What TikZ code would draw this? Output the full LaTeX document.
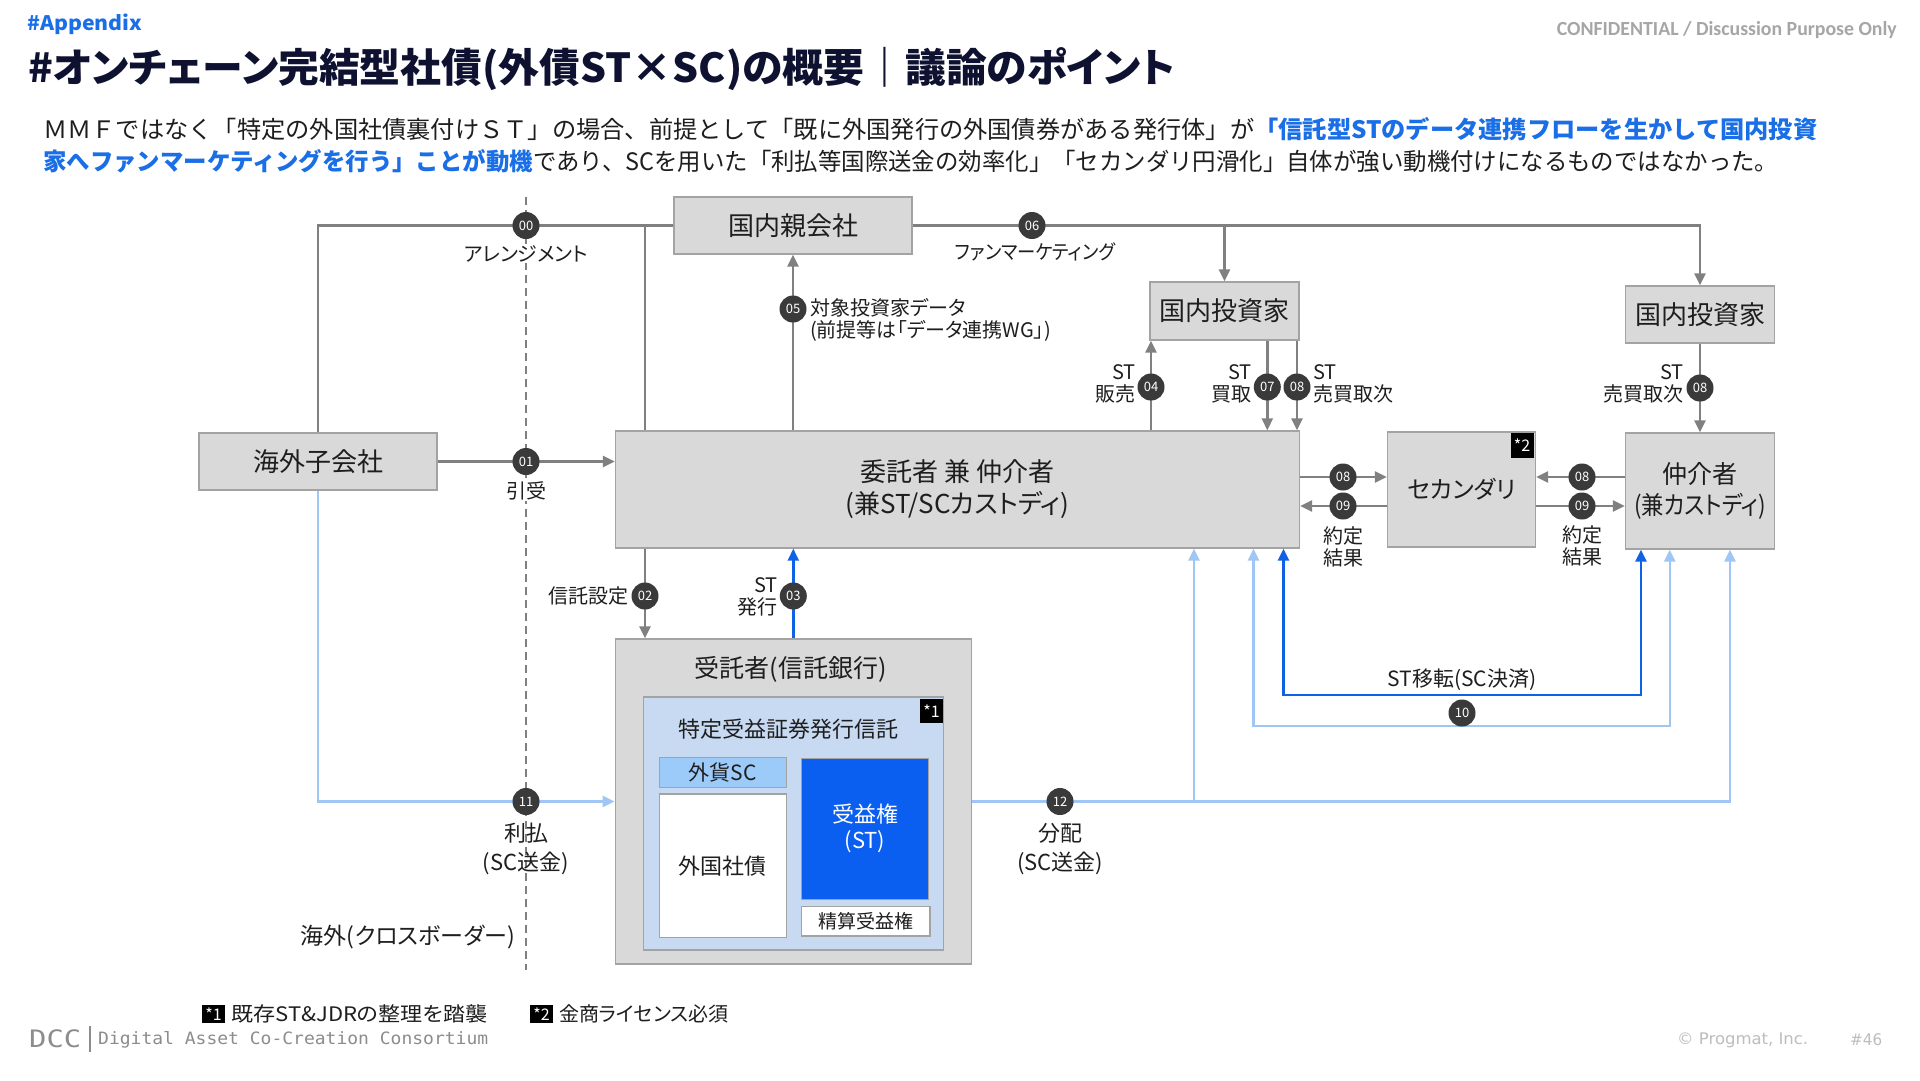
\documentclass[tikz,border=0pt]{standalone}
\usepackage{fontspec}
\usepackage{graphicx}
\usetikzlibrary{arrows.meta,calc}
\setmainfont{Noto Sans CJK JP}[RawFeature=+palt]
\newfontfamily\jpfix{Noto Sans CJK JP}
\newfontfamily\carl{Carlito}
\newfontfamily\monof{DejaVu Sans Mono}
\newfontfamily\dejasans{DejaVu Sans}
\newcommand\fitw[2]{\resizebox{#1}{\height}{#2}}
\definecolor{boxfill}{HTML}{D9D9D9}
\definecolor{boxline}{HTML}{A3A3A3}
\definecolor{lgray}{HTML}{808080}
\definecolor{badgec}{HTML}{3A3A3A}
\definecolor{lblue}{HTML}{9FC6F5}
\definecolor{dblue}{HTML}{0F62E6}
\definecolor{trustfill}{HTML}{C8DAF2}
\definecolor{scfill}{HTML}{9DCBF9}
\definecolor{stfill}{HTML}{0A5EF0}
\definecolor{navy}{HTML}{0E1230}
\definecolor{bluet}{HTML}{1A6EE6}
\definecolor{txt}{HTML}{1E1E1E}
\definecolor{confg}{HTML}{A6A6A6}
\definecolor{footg}{HTML}{8C8C8C}
\definecolor{copyg}{HTML}{BDBDBD}
\begin{document}
\begin{tikzpicture}[x=1bp,y=-1bp,
  boxs/.style={draw=boxline, fill=boxfill, line width=1.3bp, inner sep=0pt, align=center, text=txt,
    font=\fontsize{26bp}{32bp}\selectfont},
  badge/.style={circle, fill=badgec, text=white, minimum size=27bp, inner sep=0pt,
    font=\fontsize{13bp}{13bp}\selectfont},
  lbl/.style={inner sep=1bp, align=center, text=txt, font=\fontsize{20bp}{22bp}\selectfont},
  blk/.style={fill=black, text=white, inner sep=0pt, font=\fontsize{16bp}{16bp}\selectfont},
  conn/.style={draw=lgray, line width=2.4bp},
  arr/.style={conn, -{Triangle[length=12bp,width=11bp]}},
  arrl/.style={draw=lblue, line width=2.4bp, -{Triangle[length=12bp,width=11bp]}},
  arrb/.style={draw=dblue, line width=2.4bp, -{Triangle[length=12bp,width=11bp]}},
  biarrl/.style={draw=lblue, line width=2.4bp, {Triangle[length=12bp,width=11bp]}-{Triangle[length=12bp,width=11bp]}},
  biarrb/.style={draw=dblue, line width=2.4bp, {Triangle[length=12bp,width=11bp]}-{Triangle[length=12bp,width=11bp]}}
]
\useasboundingbox (0,0) rectangle (1920,1080);
\fill[white] (0,0) rectangle (1920,1080);

% ---------- header ----------
\node[anchor=west, inner sep=0pt, text=bluet, font=\fontsize{20bp}{24bp}\selectfont\bfseries] (appx) at (27,24) {\fitw{115bp}{\#Appendix}};
\node[anchor=east, inner sep=0pt, text=confg, font=\carl\bfseries\fontsize{20bp}{24bp}\selectfont] (conf) at (1897,30) {\fitw{340bp}{CONFIDENTIAL / Discussion Purpose Only}};
\node[anchor=west, inner sep=0pt, text=navy, font=\fontsize{40bp}{48bp}\selectfont\bfseries] (title) at (28,69) {\fitw{1147bp}{\#オンチェーン完結型社債(外債ST×SC)の概要｜議論のポイント}};
\node[anchor=west, inner sep=0pt, text=txt, font=\jpfix\fontsize{24bp}{28bp}\selectfont] (sub1) at (43,129) {\fitw{1774bp}{ＭＭＦではなく「特定の外国社債裏付けＳＴ」の場合、前提として「既に外国発行の外国債券がある発行体」が\textcolor{bluet}{\bfseries「信託型STのデータ連携フローを生かして国内投資}}};
\node[anchor=west, inner sep=0pt, text=txt, font=\jpfix\fontsize{24bp}{28bp}\selectfont] (sub2) at (43,161) {\fitw{1735bp}{\textcolor{bluet}{\bfseries 家へファンマーケティングを行う」ことが動機}であり、SCを用いた「利払等国際送金の効率化」「セカンダリ円滑化」自体が強い動機付けになるものではなかった。}};

% ---------- dashed border line ----------
\coordinate (dtop) at (526,197);
\coordinate (dbot) at (526,970);
\draw[draw=lgray, line width=2bp, dash pattern=on 8bp off 5bp] (dtop) -- (dbot);

% ---------- boxes ----------
\node[boxs, minimum width=238bp, minimum height=57bp] (kaigai) at (318,461.5) {海外子会社};
\node[boxs, minimum width=238bp, minimum height=57bp] (oya) at (793,225.5) {国内親会社};
\node[boxs, minimum width=684bp, minimum height=117bp] (itaku) at (957.5,489.5) {委託者 兼 仲介者\\(兼ST/SCカストディ)};
\node[boxs, minimum width=149bp, minimum height=58bp] (toshi1) at (1224.5,311) {国内投資家};
\node[boxs, minimum width=149bp, minimum height=57bp] (toshi2) at (1700,314.5) {国内投資家};
\node[boxs, minimum width=148bp, minimum height=115bp, font=\fontsize{24bp}{30bp}\selectfont] (second) at (1461.5,489.5) {セカンダリ};
\node[boxs, minimum width=149bp, minimum height=116bp, font=\fontsize{25bp}{31bp}\selectfont] (chukai) at (1700,491) {仲介者\\\fitw{132bp}{(兼カストディ)}};
\node[blk, minimum width=23bp, minimum height=25bp] (ast2) at (1522,445.5) {*2};

% trustee block
\node[boxs, minimum width=356bp, minimum height=325bp] (jutaku) at (793.3,801.5) {};
\node[lbl, font=\fontsize{25bp}{30bp}\selectfont] (jutakut) at (790.6,669.5) {受託者(信託銀行)};
\node[draw=boxline, fill=trustfill, line width=1.3bp, minimum width=300bp, minimum height=253bp, inner sep=0pt] (trust) at (793.3,823.4) {};
\node[blk, minimum width=23bp, minimum height=24bp] (ast1) at (931.5,711) {*1};
\node[lbl, font=\fontsize{22bp}{26bp}\selectfont] (trustt) at (788,729.5) {特定受益証券発行信託};
\node[draw=boxline, fill=scfill, line width=1.3bp, minimum width=127bp, minimum height=30bp, inner sep=0pt, text=txt, font=\fontsize{21bp}{24bp}\selectfont] (gsc) at (722.9,772.7) {外貨SC};
\node[draw=boxline, fill=white, line width=1.3bp, minimum width=127bp, minimum height=143.7bp, inner sep=0pt, text=txt, font=\fontsize{22bp}{26bp}\selectfont] (gsai) at (722.9,865.8) {外国社債};
\node[draw=boxline, fill=stfill, line width=1.3bp, minimum width=127.5bp, minimum height=141bp, inner sep=0pt, align=center, text=white, font=\fontsize{22bp}{26bp}\selectfont] (juek) at (865,828.8) {受益権\\(ST)};
\node[draw=boxline, fill=white, line width=1.3bp, minimum width=128.7bp, minimum height=29.3bp, inner sep=0pt, text=txt, font=\fontsize{19bp}{22bp}\selectfont] (seisan) at (865.6,921.4) {精算受益権};

% ---------- coordinates for vertical lines ----------
\coordinate (x00v) at (645,0);
\coordinate (x04) at (1151,0);
\coordinate (x07) at (1267.3,0);
\coordinate (x08) at (1297,0);
\coordinate (y08) at (0,477);
\coordinate (y09) at (0,506);
\coordinate (x12b) at (1194,0);
\coordinate (x12r) at (1730,0);
\coordinate (d1) at (1283.5,695);
\coordinate (d2) at (1641,695);
\coordinate (l1) at (1253.5,726);
\coordinate (l2) at (1669.7,726);

% ---------- connectors ----------
% 00 arrangement
\draw[conn] (kaigai.north) |- (oya.west);
\draw[conn] (itaku.north -| x00v) -- (oya.west -| x00v);
% 06 fan marketing
\draw[arr] (oya.east) -| (toshi2.north);
\draw[arr] (oya.east -| toshi1.north) -- (toshi1.north);
% 05
\draw[arr] (itaku.north -| oya.south) -- (oya.south);
% 01
\draw[arr] (kaigai.east) -- (kaigai.east -| itaku.west);
% 04 / 07 / 08
\draw[arr] (itaku.north -| x04) -- (toshi1.south -| x04);
\draw[arr] (toshi1.south -| x07) -- (itaku.north -| x07);
\draw[arr] (toshi1.south -| x08) -- (itaku.north -| x08);
% 08 / 09 left pair
\draw[arr] (itaku.east |- y08) -- (second.west |- y08);
\draw[arr] (second.west |- y09) -- (itaku.east |- y09);
% 08 / 09 right pair
\draw[arr] (chukai.west |- y08) -- (second.east |- y08);
\draw[arr] (second.east |- y09) -- (chukai.west |- y09);
% 08 right vertical
\draw[arr] (toshi2.south) -- (chukai.north);
% 02
\draw[arr] (itaku.south -| x00v) -- (jutaku.north -| x00v);
% 03
\draw[arrb] (jutaku.north) -- (itaku.south -| jutaku.north);
% 11
\draw[arrl] (kaigai.south) |- (jutaku.west);
% 12
\draw[arrl] (jutaku.east) -| (chukai.south -| x12r);
\draw[arrl] (jutaku.east -| x12b) -- (itaku.south -| x12b);
% 10
\draw[biarrl] (itaku.south -| l1) -- (l1) -- (l2) -- (chukai.south -| l2);
\draw[biarrb] (itaku.south -| d1) -- (d1) -- (d2) -- (chukai.south -| d2);

% ---------- badges ----------
\node[badge] (b00) at (526,225.5) {00};
\node[badge] (b06) at (1032,225.5) {06};
\node[badge] (b05) at (793,309) {05};
\node[badge] (b01) at (526,461.5) {01};
\node[badge] (b04) at (1151,387) {04};
\node[badge] (b07) at (1267.3,387) {07};
\node[badge] (b08a) at (1297,387) {08};
\node[badge] (b08b) at (1343,477) {08};
\node[badge] (b09b) at (1343,506) {09};
\node[badge] (b08c) at (1582,477) {08};
\node[badge] (b09c) at (1582,506) {09};
\node[badge] (b08d) at (1700,388) {08};
\node[badge] (b02) at (645,596) {02};
\node[badge] (b03) at (793.3,596) {03};
\node[badge] (b11) at (526,801.5) {11};
\node[badge] (b12) at (1060,801.5) {12};
\node[badge] (b10) at (1462,713) {10};

% ---------- labels ----------
\node[lbl, fill=white] (l00) at (526,254) {アレンジメント};
\node[lbl] (l06) at (1035,252) {\fitw{160bp}{ファンマーケティング}};
\node[lbl, anchor=west, align=left] (l05) at (809,320) {対象投資家データ\\(前提等は「データ連携WG」)};
\node[lbl, fill=white] (l01) at (526,491) {引受};
\node[lbl, anchor=east, align=right] (l04) at (1137,384) {ST\\販売};
\node[lbl, anchor=east, align=right] (l07) at (1253,384) {ST\\買取};
\node[lbl, anchor=west, align=left] (l08a) at (1312,384) {ST\\売買取次};
\node[lbl, anchor=east, align=right] (l08d) at (1685,384) {ST\\売買取次};
\node[lbl] (l09b) at (1343,547) {約定\\結果};
\node[lbl] (l09c) at (1582,546) {約定\\結果};
\node[lbl, anchor=east] (l02) at (630,596) {信託設定};
\node[lbl, anchor=east, align=right] (l03) at (779,597) {ST\\発行};
\node[lbl, font=\fontsize{22bp}{29bp}\selectfont] (l11) at (526,849) {利払\\(SC送金)};
\node[lbl, font=\fontsize{22bp}{29bp}\selectfont] (l12) at (1060,849) {分配\\(SC送金)};
\node[lbl, font=\fontsize{21bp}{24bp}\selectfont] (l10) at (1462,680) {ST移転(SC決済)};
\node[lbl, anchor=east, font=\fontsize{23bp}{26bp}\selectfont] (lcross) at (516,937) {海外(クロスボーダー)};

% ---------- footer ----------
\node[blk, minimum width=23bp, minimum height=18bp] (f1) at (213.5,1014) {*1};
\node[lbl, anchor=west] (f1t) at (230,1014) {\fitw{256bp}{既存ST\&JDRの整理を踏襲}};
\node[blk, minimum width=23bp, minimum height=18bp] (f2) at (541.5,1014) {*2};
\node[lbl, anchor=west] (f2t) at (558,1014) {金商ライセンス必須};
\node[anchor=west, inner sep=0pt, text=footg, font=\monof\fontsize{24bp}{26bp}\selectfont] (dcc) at (29,1039) {\fitw{52bp}{DCC}};
\fill[footg] (89,1026) rectangle (91,1052);
\node[anchor=west, inner sep=0pt, text=footg, font=\monof\fontsize{17bp}{20bp}\selectfont] (dccl) at (98,1040) {\fitw{390bp}{Digital Asset Co-Creation Consortium}};
\node[anchor=west, inner sep=0pt, text=copyg, font=\dejasans\fontsize{16bp}{20bp}\selectfont] (copy) at (1677,1040) {\fitw{131bp}{© Progmat, Inc.}};
\node[anchor=west, inner sep=0pt, text=copyg, font=\dejasans\fontsize{16bp}{20bp}\selectfont] (pg) at (1850,1040) {\fitw{32bp}{\#46}};
\end{tikzpicture}
\end{document}
